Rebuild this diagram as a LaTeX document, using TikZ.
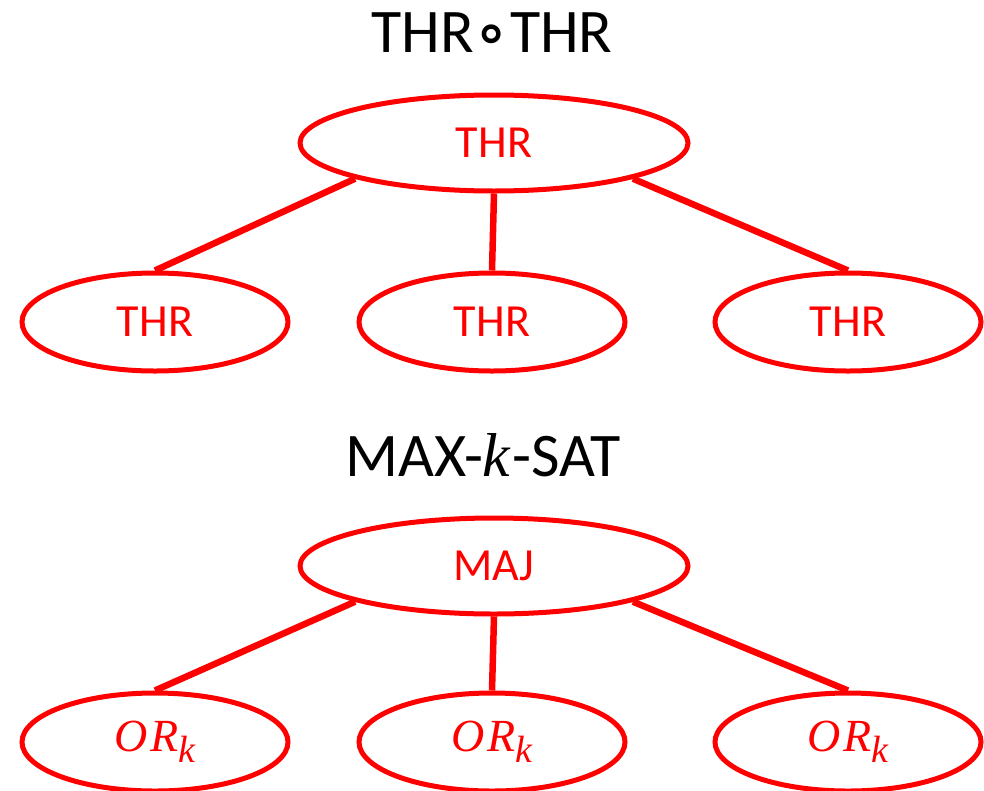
\documentclass[tikz,border=0pt]{standalone}
\usepackage{fontspec}
\setmainfont{Carlito}
\newfontfamily\symfont{DejaVu Sans}
\newfontfamily\varfont{Liberation Serif}[UprightFont=*-Italic]
\usetikzlibrary{shapes.geometric}
\definecolor{treered}{RGB}{255,0,0}
% italic variable names with a lowered subscript
\newcommand{\varname}[1]{{\varfont #1}}
\newcommand{\orsub}{\raisebox{-0.12em}{\varname{O\kern0.06em R}\raisebox{-0.24em}{\fontsize{38}{44}\selectfont\varname{k}}}}
\begin{document}
\begin{tikzpicture}[x=1pt,y=1pt,
  title/.style={font=\fontsize{62}{70}\selectfont, text=black, inner sep=0},
  parent/.style={ellipse, draw=treered, line width=5pt, minimum width=388pt, minimum height=96pt, inner sep=0,
                 text=treered, font=\fontsize{46}{52}\selectfont},
  child/.style={ellipse, draw=treered, line width=5pt, minimum width=266pt, minimum height=98pt, inner sep=0,
                text=treered, font=\fontsize{46}{52}\selectfont},
  edge/.style={draw=treered, line width=6.5pt}]
\useasboundingbox (0,0) rectangle (984,-790);

% upper tree: composition of thresholds
\node[title] (t1) at (492,-33) {THR{\symfont\fontsize{58}{70}\selectfont\textbf{∘}}THR};
\node[parent] (p1) at (494,-143) {THR};
\node[child] (a1) at (155,-322) {THR};
\node[child] (a2) at (492,-322) {THR};
\node[child] (a3) at (848,-322) {THR};
\draw[edge] (p1.south west) -- (a1.north);
\draw[edge] (p1.south) -- (a2.north);
\draw[edge] (p1.south east) -- (a3.north);

% lower tree: MAX-k-SAT as majority of ORs
\node[title] (t2) at (483,-455) {MAX-\varname{k}\kern0.03em-SAT};
\node[parent] (p2) at (494,-566) {MAJ};
\node[child] (b1) at (155,-742) {\orsub};
\node[child] (b2) at (492,-742) {\orsub};
\node[child] (b3) at (848,-742) {\orsub};
\draw[edge] (p2.south west) -- (b1.north);
\draw[edge] (p2.south) -- (b2.north);
\draw[edge] (p2.south east) -- (b3.north);
\end{tikzpicture}
\end{document}
